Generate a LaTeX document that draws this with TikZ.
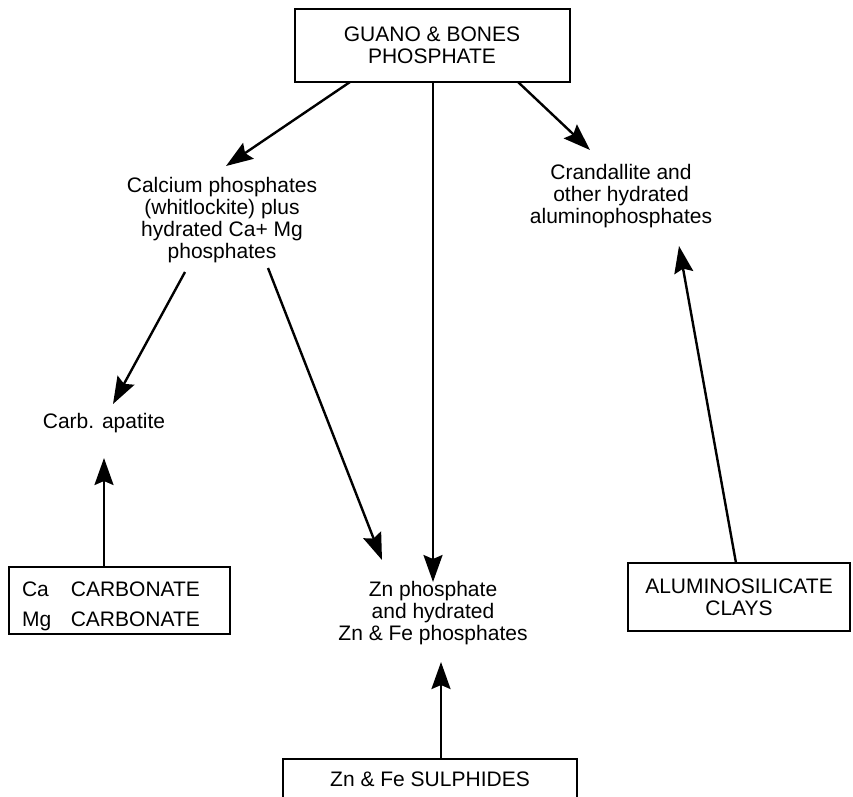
\documentclass[tikz,border=0pt]{standalone}
\usepackage{fontspec}
\setmainfont{Liberation Sans}
\usetikzlibrary{arrows.meta}
\begin{document}
\begin{tikzpicture}[x=1pt,y=-1pt,
  every node/.style={font=\fontsize{21}{21.8}\selectfont, align=center},
  srcbox/.style={draw, line width=2pt, inner sep=0pt},
  label/.style={inner sep=0pt},
  flow/.style={line width=2.4pt, -{Stealth[length=27pt,width=19pt,inset=4pt]}}]
\useasboundingbox (0,0) rectangle (853,796);

% source boxes
\node[srcbox, minimum width=275pt, minimum height=73pt] (guano) at (432,45)
  {GUANO \& BONES\\PHOSPHATE};
\node[srcbox, minimum width=221pt, minimum height=67pt, align=left] (carb) at (119.5,600.5)
  {\rule{0pt}{26pt}Ca\kern22pt CARBONATE\kern17pt\\[8pt]Mg\kern19.6pt CARBONATE};
\node[srcbox, minimum width=222pt, minimum height=68pt] (clay) at (739,597)
  {ALUMINOSILICATE\\CLAYS};
\node[srcbox, minimum width=294pt, minimum height=40pt] (sulph) at (430,779)
  {Zn \& Fe SULPHIDES};

% product labels
\node[label] (calc) at (222,220)
  {Calcium phosphates\\(whitlockite) plus\\hydrated Ca+ Mg\\phosphates};
\node[label] (cran) at (621,196)
  {Crandallite and\\other hydrated\\aluminophosphates};
\node[label] (apat) at (104,423) {Carb. apatite};
\node[label] (znph) at (433,613)
  {Zn phosphate\\and hydrated\\Zn \& Fe phosphates};

% connector ends
\coordinate (g1) at (350,82);
\coordinate (g2) at (433,82);
\coordinate (g3) at (518,82);
\coordinate (c1) at (185,272);
\coordinate (c2) at (268,268);
\coordinate (tCalc) at (226,166);
\coordinate (tCran) at (590,150);
\coordinate (tApat) at (113,404);
\coordinate (tZn1) at (382,560);
\coordinate (tZn2) at (433,582);
\coordinate (tZn3) at (441,662);
\coordinate (tApat2) at (104,458);
\coordinate (tCran2) at (679,246);
\coordinate (cl) at (736,563);
\coordinate (cb) at (104,567);
\coordinate (sl) at (441,759);

\draw[flow] (g1) -- (tCalc);
\draw[flow] (g2) -- (tZn2);
\draw[flow] (g3) -- (tCran);
\draw[flow] (c1) -- (tApat);
\draw[flow] (c2) -- (tZn1);
\draw[flow] (cb) -- (tApat2);
\draw[flow] (cl) -- (tCran2);
\draw[flow] (sl) -- (tZn3);
\end{tikzpicture}
\end{document}
